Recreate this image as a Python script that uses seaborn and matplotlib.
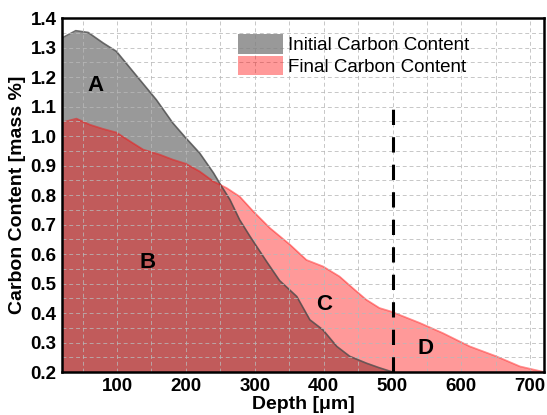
import numpy as np
import pandas as pd
import matplotlib
matplotlib.use("Agg")
import matplotlib.pyplot as plt
import seaborn as sns
from matplotlib.patches import Patch
from matplotlib.ticker import MultipleLocator

# initial carbon profile (gray)
depth_init = [20, 40, 58, 80, 99, 123, 157, 181, 200, 220, 240, 249, 264, 278,
              293, 317, 336, 361, 380, 399, 419, 438, 462, 480, 500]
carbon_init = [1.332, 1.357, 1.351, 1.315, 1.287, 1.219, 1.123, 1.044, 0.993, 0.942,
               0.875, 0.840, 0.784, 0.716, 0.660, 0.575, 0.510, 0.456, 0.377, 0.343,
               0.287, 0.253, 0.230, 0.215, 0.200]

# final carbon profile (red)
depth_final = [20, 41, 61, 80, 99, 123, 138, 162, 181, 200, 220, 240, 259, 278,
               298, 322, 351, 375, 399, 423, 442, 462, 481, 498, 540, 573, 612,
               651, 685, 720]
carbon_final = [1.046, 1.059, 1.038, 1.024, 1.012, 0.976, 0.954, 0.937, 0.920, 0.906,
                0.880, 0.846, 0.824, 0.795, 0.744, 0.688, 0.632, 0.580, 0.558, 0.524,
                0.485, 0.445, 0.417, 0.405, 0.366, 0.332, 0.287, 0.253, 0.219, 0.200]

region_labels = ["A", "B", "C", "D"]
region_x = [68, 145, 400, 548]
region_y = [1.17, 0.57, 0.43, 0.28]

df_init = pd.DataFrame({"depth": depth_init, "carbon": carbon_init})
df_final = pd.DataFrame({"depth": depth_final, "carbon": carbon_final})

sns.set_style("white")
plt.rcParams["font.family"] = ["Liberation Sans", "DejaVu Sans"]
plt.rcParams["text.color"] = "black"
plt.rcParams["axes.labelcolor"] = "black"
plt.rcParams["xtick.color"] = "black"
plt.rcParams["ytick.color"] = "black"

fig = plt.figure(figsize=(5.47, 4.15), dpi=100)
ax = fig.add_axes([0.1133, 0.1036, 0.8812, 0.853])

ax.fill_between(df_init["depth"], df_init["carbon"], 0.2, color="gray", alpha=0.8, lw=0)
sns.lineplot(data=df_init, x="depth", y="carbon", ax=ax, color="#4a4a4a", lw=1.2, alpha=0.8)
ax.fill_between(df_final["depth"], df_final["carbon"], 0.2, color="red", alpha=0.4, lw=0)
sns.lineplot(data=df_final, x="depth", y="carbon", ax=ax, color="red", lw=1.2, alpha=0.45)

ax.plot([500, 500], [0.2, 1.09], color="black", lw=2.2, ls=(0, (5, 4)), zorder=6)

for lab, x, y in zip(region_labels, region_x, region_y):
    ax.text(x, y, lab, fontsize=16, fontweight="bold", ha="center", va="center", zorder=7)

ax.set_xlim(20, 720)
ax.set_ylim(0.2, 1.4)
ax.xaxis.set_minor_locator(MultipleLocator(50))
ax.yaxis.set_minor_locator(MultipleLocator(0.05))
ax.grid(which="both", color="#b8b8b8", ls=(0, (4, 3)), lw=0.7, alpha=0.8, zorder=4)
ax.set_axisbelow(False)
ax.tick_params(which="both", length=0, labelsize=13.5, pad=4)
yt = np.round(np.arange(0.2, 1.41, 0.1), 1)
ax.set_yticks(yt)
ax.set_yticklabels([f"{v:.1f}" for v in yt], fontweight="bold")
ax.set_xticks([100, 200, 300, 400, 500, 600, 700])
ax.set_xticklabels(["100", "200", "300", "400", "500", "600", "700"], fontweight="bold")

ax.set_xlabel("Depth [μm]", fontsize=14, fontweight="bold", labelpad=1)
ax.set_ylabel("Carbon Content [mass %]", fontsize=14, fontweight="bold", labelpad=3)

for s in ax.spines.values():
    s.set_color("black")
    s.set_linewidth(1.8)
    s.set_zorder(8)

handles = [Patch(facecolor="gray", alpha=0.8, edgecolor="none", label="Initial Carbon Content"),
           Patch(facecolor="red", alpha=0.4, edgecolor="none", label="Final Carbon Content")]
ax.legend(handles=handles, loc="upper left", bbox_to_anchor=(0.35, 0.975), frameon=False,
          fontsize=13.5, handlelength=2.4, handleheight=1.2, handletextpad=0.25, labelspacing=0.1,
          borderaxespad=0)

fig.savefig("out.png", dpi=100)
